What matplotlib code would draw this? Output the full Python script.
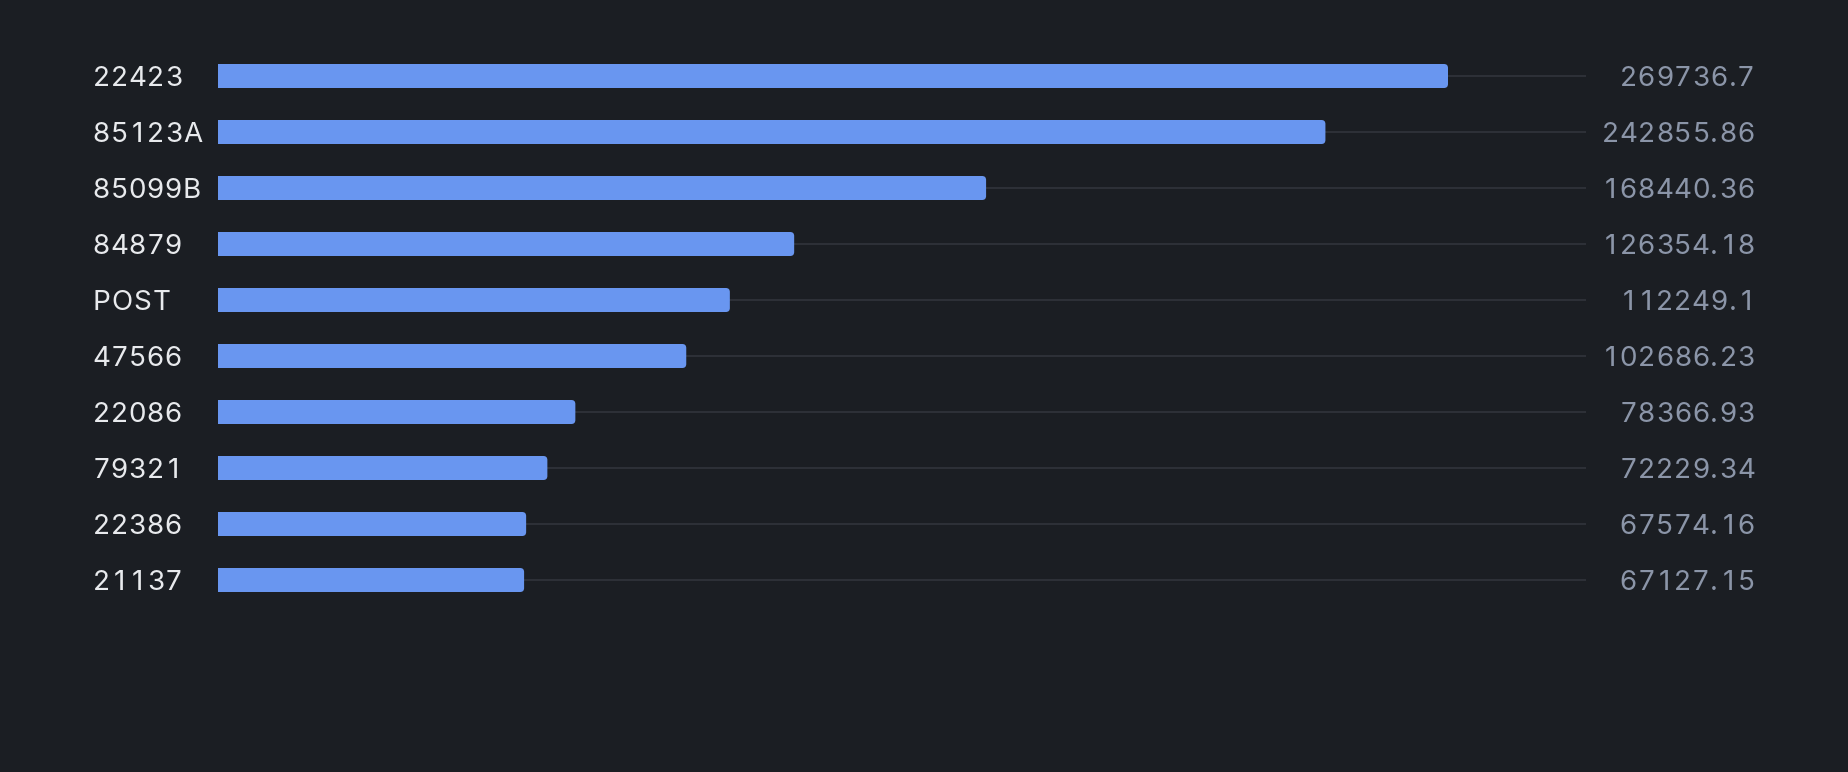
import matplotlib.pyplot as plt
from matplotlib import font_manager
from matplotlib.ft2font import FT2Font
from matplotlib.patches import FancyBboxPatch, Rectangle
from matplotlib.transforms import blended_transform_factory, offset_copy

plt.rcParams['font.family'] = ['Inter', 'DejaVu Sans']

codes = ['22423', '85123A', '85099B', '84879', 'POST', '47566', '22086', '79321', '22386', '21137']
values = [269736.7, 242855.86, 168440.36, 126354.18, 112249.1, 102686.23, 78366.93, 72229.34, 67574.16, 67127.15]
value_labels = ['269736.7', '242855.86', '168440.36', '126354.18', '112249.1', '102686.23',
                '78366.93', '72229.34', '67574.16', '67127.15']

bg = '#1b1e23'
bar_color = '#6996f0'
track_color = '#2d3037'
W, H = 1848, 772
DPI = 100
xmax = 300000
fsize = 20
track_px = 1.0    # extra letter spacing
digit_cell = 18.1  # tabular figure width in px

fig = plt.figure(figsize=(W / DPI, H / DPI), dpi=DPI, facecolor=bg)
ax = fig.add_axes([218 / W, (H - 608) / H, 1368 / W, 560 / H])
ax.set_facecolor(bg)
ax.set_xlim(0, xmax)
ax.set_ylim(len(codes) - 0.5, -0.5)
ax.axis('off')

x_per_px = xmax / 1368
y_per_px = 1 / 56
bh = 24 / 56
r_px = 4

for i, v in enumerate(values):
    ax.plot([0, xmax], [i, i], color=track_color, lw=1.5, zorder=1, solid_capstyle='butt')
    box = FancyBboxPatch((0, i - bh / 2), v, bh,
                         boxstyle='round,pad=0,rounding_size=%f' % (r_px * x_per_px),
                         mutation_aspect=y_per_px / x_per_px,
                         fc=bar_color, ec='none', zorder=2)
    ax.add_patch(box)
    ax.add_patch(Rectangle((0, i - bh / 2), v / 2, bh, fc=bar_color, ec='none', zorder=2))

# glyph advances, digits get a fixed (tabular) cell
ft = FT2Font(font_manager.findfont(font_manager.FontProperties(family='Inter')))
ft.set_size(fsize, DPI)


def layout(s):
    out = []
    for c in s:
        nat = ft.load_char(ord(c)).linearHoriAdvance / 65536
        if c.isdigit():
            out.append((digit_cell, (digit_cell - nat) / 2))
        else:
            out.append((nat + track_px, track_px / 2))
    return out


cap_px = 0.727 * fsize * DPI / 72
tl = blended_transform_factory(fig.transFigure, ax.transData)


def spaced_text(x_px, y, s, color, align):
    cells = layout(s)
    total = sum(w for w, _ in cells)
    pos = x_px if align == 'left' else x_px - total
    for c, (w, off) in zip(s, cells):
        tr = offset_copy(tl, fig=fig, x=(pos + off) * 72 / DPI, y=-cap_px / 2 * 72 / DPI, units='points')
        fig.text(0, y, c, transform=tr, ha='left', va='baseline', color=color, fontsize=fsize)
        pos += w


for i, (c, lab) in enumerate(zip(codes, value_labels)):
    spaced_text(92, i, c, '#e8eaed', 'left')
    spaced_text(1755, i, lab, '#8b95a8', 'right')

fig.savefig('out.png', dpi=DPI, facecolor=bg)
